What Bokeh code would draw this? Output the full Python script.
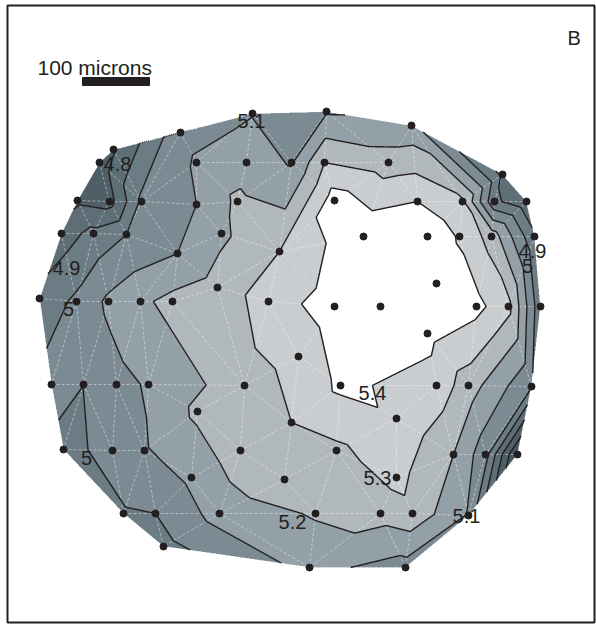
import numpy as np
from bokeh.plotting import figure
from bokeh.models import Range1d
from bokeh.embed import file_html
from bokeh.resources import INLINE
from bokeh.core.properties import value

# ---- measured sample sites (position across the section) and measured values ----
pt_x = [180, 252, 326, 411, 113, 99, 196, 246, 291, 324, 388, 502,
        77, 109, 141, 196, 237, 334, 417, 462, 494, 526,
        61, 93, 126, 221, 363, 427, 459, 491, 534,
        177, 279, 217, 436,
        39, 76, 108, 140, 172, 268, 334, 380, 476, 508, 540,
        427, 298,
        51, 83, 116, 148, 244, 340, 436, 468, 531,
        197, 396, 291,
        63, 112, 144, 240, 336, 453, 485, 517,
        191, 284, 396,
        123, 155, 219, 315, 380, 412, 468,
        163, 309, 405]
pt_y = [132, 113, 111, 125, 149, 162, 162, 162, 162, 162, 162, 174,
        200, 201, 201, 204, 201, 200, 201, 201, 201, 201,
        233, 233, 234, 233, 236, 236, 236, 236, 236,
        253, 251, 287, 283,
        298, 301, 301, 301, 301, 301, 306, 306, 306, 306, 306,
        333, 356,
        384, 384, 384, 384, 385, 385, 385, 385, 386,
        411, 418, 422,
        449, 450, 450, 450, 450, 454, 454, 454,
        477, 479, 477,
        513, 513, 513, 513, 513, 513, 515,
        546, 567, 567]
pt_z = [5.07, 5.095, 5.09, 5.13, 4.79, 4.74, 5.11, 5.16, 5.09, 5.30, 5.25, 4.88,
        4.78, 4.76, 5.02, 5.10, 5.22, 5.45, 5.40, 5.32, 4.92, 4.83,
        4.85, 4.93, 5.00, 5.18, 5.48, 5.47, 5.39, 5.26, 4.92,
        5.10, 5.30, 5.24, 5.46,
        4.93, 5.02, 5.12, 5.18, 5.23, 5.35, 5.45, 5.49, 5.43, 5.33, 4.93,
        5.43, 5.33,
        5.05, 5.001, 5.07, 5.11, 5.26, 5.42, 5.36, 5.25, 5.01,
        5.22, 5.39, 5.30,
        4.96, 5.04, 5.09, 5.26, 5.28, 5.20, 5.04, 4.58,
        5.12, 5.27, 5.33,
        4.99, 5.00, 5.14, 5.21, 5.24, 5.27, 5.09,
        4.97, 5.13, 5.06]

levels = [4.5, 4.6, 4.7, 4.8, 4.9, 5.0, 5.1, 5.2, 5.3, 5.4, 5.6]
band_colors = ["#3f4d55", "#465660", "#4f5f68", "#5e6e77", "#6c7c85",
               "#7b8a93", "#93a0a7", "#b0b8bc", "#c9cdcf", "#ffffff"]

label_text = ["5.1", "4.8", "4.9", "5", "5", "5.2", "5.3", "5.4", "5.1", "4.9", "5"]
label_pos = [(251, 120), (117, 163), (66, 267), (68, 308), (86, 457), (292, 521),
             (377, 477), (372, 392), (466, 515), (532, 250), (527, 265)]

INK = "#231f20"


# ---- Delaunay triangulation (Bowyer-Watson) ----
def delaunay(xs, ys):
    pts = [(float(a), float(b)) for a, b in zip(xs, ys)]
    n = len(pts)
    minx, maxx, miny, maxy = min(xs), max(xs), min(ys), max(ys)
    d = max(maxx - minx, maxy - miny) * 20.0
    cx, cy = (minx + maxx) / 2.0, (miny + maxy) / 2.0
    allp = pts + [(cx - d, cy - d), (cx + d, cy - d), (cx, cy + d)]

    def circ(t):
        (ax, ay), (bx, by), (qx, qy) = allp[t[0]], allp[t[1]], allp[t[2]]
        D = 2 * (ax * (by - qy) + bx * (qy - ay) + qx * (ay - by))
        ux = ((ax * ax + ay * ay) * (by - qy) + (bx * bx + by * by) * (qy - ay) + (qx * qx + qy * qy) * (ay - by)) / D
        uy = ((ax * ax + ay * ay) * (qx - bx) + (bx * bx + by * by) * (ax - qx) + (qx * qx + qy * qy) * (bx - ax)) / D
        return ux, uy, (ax - ux) ** 2 + (ay - uy) ** 2

    tris = {(n, n + 1, n + 2): circ((n, n + 1, n + 2))}
    for i, (x, y) in enumerate(pts):
        bad = [t for t, (ux, uy, r2) in tris.items() if (x - ux) ** 2 + (y - uy) ** 2 < r2 - 1e-9]
        cnt = {}
        for t in bad:
            for e in ((t[0], t[1]), (t[1], t[2]), (t[2], t[0])):
                k = tuple(sorted(e))
                cnt[k] = cnt.get(k, 0) + 1
        for t in bad:
            del tris[t]
        for (a, b), c in cnt.items():
            if c == 1:
                t = (a, b, i)
                tris[t] = circ(t)
    return [t for t in tris if max(t) < n]


X = np.array(pt_x, dtype=float)
Y = np.array(pt_y, dtype=float)
Zv = np.array(pt_z, dtype=float)
tris = delaunay(pt_x, pt_y)

# linear interpolation of the values over the triangles onto a fine grid
gx = np.arange(min(pt_x), max(pt_x) + 0.5, 0.5)
gy = np.arange(min(pt_y), max(pt_y) + 0.5, 0.5)
GX, GY = np.meshgrid(gx, gy)
GZ = np.full(GX.shape, np.nan)
for a, b, c in tris:
    x0, x1 = min(X[a], X[b], X[c]), max(X[a], X[b], X[c])
    y0, y1 = min(Y[a], Y[b], Y[c]), max(Y[a], Y[b], Y[c])
    ix = np.where((gx >= x0 - 1) & (gx <= x1 + 1))[0]
    iy = np.where((gy >= y0 - 1) & (gy <= y1 + 1))[0]
    if len(ix) == 0 or len(iy) == 0:
        continue
    sx = GX[np.ix_(iy, ix)]
    sy = GY[np.ix_(iy, ix)]
    det = (Y[b] - Y[c]) * (X[a] - X[c]) + (X[c] - X[b]) * (Y[a] - Y[c])
    if abs(det) < 1e-12:
        continue
    l1 = ((Y[b] - Y[c]) * (sx - X[c]) + (X[c] - X[b]) * (sy - Y[c])) / det
    l2 = ((Y[c] - Y[a]) * (sx - X[c]) + (X[a] - X[c]) * (sy - Y[c])) / det
    l3 = 1 - l1 - l2
    inside = (l1 >= -1e-9) & (l2 >= -1e-9) & (l3 >= -1e-9)
    vals = l1 * Zv[a] + l2 * Zv[b] + l3 * Zv[c]
    sub = GZ[np.ix_(iy, ix)]
    sub[inside] = vals[inside]
    GZ[np.ix_(iy, ix)] = sub

GZm = np.ma.masked_invalid(GZ)

p = figure(width=596, height=624, output_backend="svg", toolbar_location=None,
           x_range=Range1d(7, 594), y_range=Range1d(622, 5),
           min_border_left=7, min_border_top=5, min_border_right=2, min_border_bottom=2,
           background_fill_color="white", border_fill_color="white")
p.axis.visible = False
p.grid.visible = False
p.outline_line_color = INK
p.outline_line_width = 2

# filled bands
p.contour(gx, gy, GZm, levels, fill_color=band_colors, line_color=None)

# triangle edges (white dashed)
edges = set()
for a, b, c in tris:
    for e in ((a, b), (b, c), (c, a)):
        edges.add(tuple(sorted(e)))
exs = [[pt_x[i], pt_x[j]] for i, j in edges]
eys = [[pt_y[i], pt_y[j]] for i, j in edges]
p.multi_line(exs, eys, line_color="white", line_alpha=0.55, line_width=0.8, line_dash="3 2")

# contour lines
p.contour(gx, gy, GZm, levels, fill_color=None, line_color=INK, line_width=1.4)

# sample sites
p.scatter(pt_x, pt_y, size=7, color=INK)

# contour labels
p.text(x=[q[0] for q in label_pos], y=[q[1] for q in label_pos], text=label_text,
       text_font=value("Liberation Sans"), text_font_size="20px", text_color=INK,
       text_align="center", text_baseline="alphabetic")

# scale bar and panel letter
p.text(x=[37], y=[67], text=["100 microns"], text_font=value("Liberation Sans"),
       text_font_size="21px", text_color=INK, text_align="left", text_baseline="alphabetic")
p.quad(left=[82], right=[149], top=[77], bottom=[85], color=INK)
p.text(x=[567], y=[37], text=["B"], text_font=value("Liberation Sans"),
       text_font_size="20px", text_color=INK, text_align="left", text_baseline="alphabetic")

open("out.html", "w").write(file_html(p, INLINE))
